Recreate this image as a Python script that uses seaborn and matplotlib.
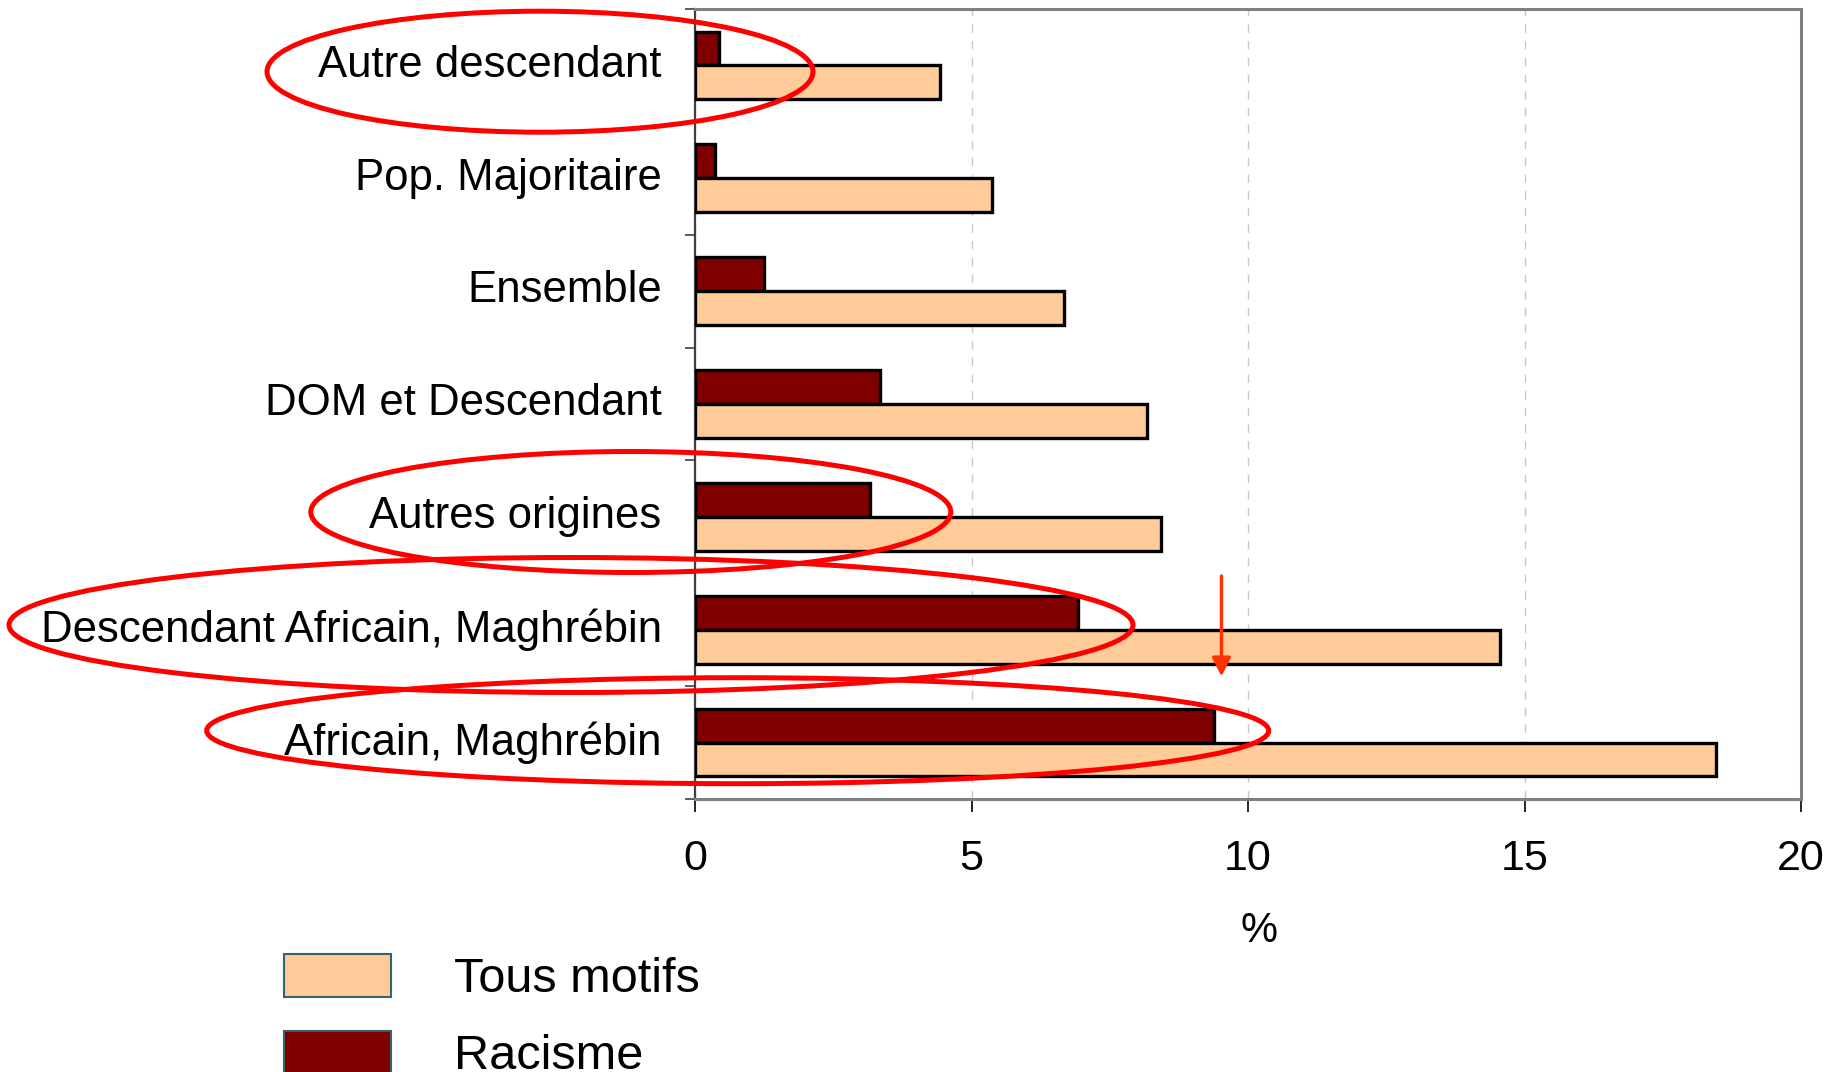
import numpy as np
import pandas as pd
import matplotlib
matplotlib.use("Agg")
import matplotlib.pyplot as plt
from matplotlib.patches import Ellipse, Patch
from matplotlib.transforms import ScaledTranslation
import seaborn as sns

categories = ["Autre descendant", "Pop. Majoritaire", "Ensemble", "DOM et Descendant",
              "Autres origines", "Descendant Africain, Maghrébin", "Africain, Maghrébin"]
tous_motifs = [4.43, 5.37, 6.67, 8.17, 8.43, 14.56, 18.47]
racisme = [0.43, 0.36, 1.24, 3.34, 3.16, 6.93, 9.38]
series = ["Racisme", "Tous motifs"]
colors = {"Tous motifs": "#FFCC99", "Racisme": "#800000"}
xticks = [0, 5, 10, 15, 20]

df = pd.DataFrame({
    "cat": categories * 2,
    "val": racisme + tous_motifs,
    "serie": ["Racisme"] * len(categories) + ["Tous motifs"] * len(categories),
})

sns.set_theme(style="white")
plt.rcParams["font.family"] = ["Liberation Sans", "DejaVu Sans"]
plt.rcParams["text.color"] = "black"
plt.rcParams["xtick.color"] = "black"
plt.rcParams["ytick.color"] = "black"

W, H = 1842, 1072
fig = plt.figure(figsize=(W / 100, H / 100), dpi=100)
ax = fig.add_axes([695 / W, 1 - 799 / H, (1801 - 695) / W, (799 - 9) / H])

sns.barplot(data=df, y="cat", x="val", hue="serie", hue_order=series, order=categories,
            palette=colors, orient="h", width=0.6, edgecolor="black", linewidth=2.4,
            saturation=1, legend=False, ax=ax, zorder=3)

ax.set_xlim(0, 20)
ax.set_ylim(6.5, -0.5)
ax.set_xticks(xticks)
ax.set_xticklabels([str(t) for t in xticks])
ax.set_xlabel("")
ax.set_ylabel("")
ax.xaxis.grid(True, linestyle=(0, (6, 6)), color="#c8c8c8", lw=1, zorder=0)
ax.yaxis.grid(False)
ax.set_yticks(np.arange(-0.5, 7, 1), minor=True)
ax.tick_params(axis="y", which="major", length=0, pad=24, labelsize=31.5, labelcolor="black")
ax.tick_params(axis="y", which="minor", length=7, width=1.2, color="#404040", direction="out", left=True)
ax.tick_params(axis="x", which="major", length=9, width=1.2, color="black", direction="out",
               bottom=True, pad=20, labelsize=31, labelcolor="black")

offset = ScaledTranslation(0, 0.047, fig.dpi_scale_trans)
for lab in ax.get_yticklabels():
    lab.set_transform(lab.get_transform() + offset)

for s in ["top", "right", "bottom"]:
    ax.spines[s].set_color("#808080")
    ax.spines[s].set_linewidth(2.2)
ax.spines["left"].set_color("#404040")
ax.spines["left"].set_linewidth(1.6)

ax.text(0.51, -0.167, "%", transform=ax.transAxes, ha="center", va="center", fontsize=30,
        color="black")

# arrow annotation
ax.annotate("", xy=(9.52, 5.44), xytext=(9.52, 4.5), xycoords="data", textcoords="data",
            arrowprops=dict(arrowstyle="-|>", color="#FF3300", lw=2.5, mutation_scale=28),
            annotation_clip=False, zorder=6)

# red ellipse highlights (figure pixel coords)
ellipses = [(540, 71.7, 546, 121), (630.8, 512, 640, 121),
            (571, 625, 1124, 135), (737.7, 730.7, 1062, 106)]
for cx, cy, w, h in ellipses:
    e = Ellipse((cx / W, 1 - cy / H), w / W, h / H, transform=fig.transFigure,
                fill=False, edgecolor="#FF0000", lw=3.6, zorder=10)
    fig.patches.append(e)

handles = [Patch(facecolor=colors["Tous motifs"], edgecolor="#336666", lw=1.5),
           Patch(facecolor=colors["Racisme"], edgecolor="#336666", lw=1.5)]
fig.legend(handles, ["Tous motifs", "Racisme"], loc="upper left",
           bbox_to_anchor=(284 / W, 1 - 954 / H), frameon=False, fontsize=35,
           handlelength=2.2, handleheight=0.97, handletextpad=1.3, labelspacing=0.6,
           borderpad=0, borderaxespad=0, labelcolor="black")

fig.savefig("out.png", dpi=100, facecolor="white")
